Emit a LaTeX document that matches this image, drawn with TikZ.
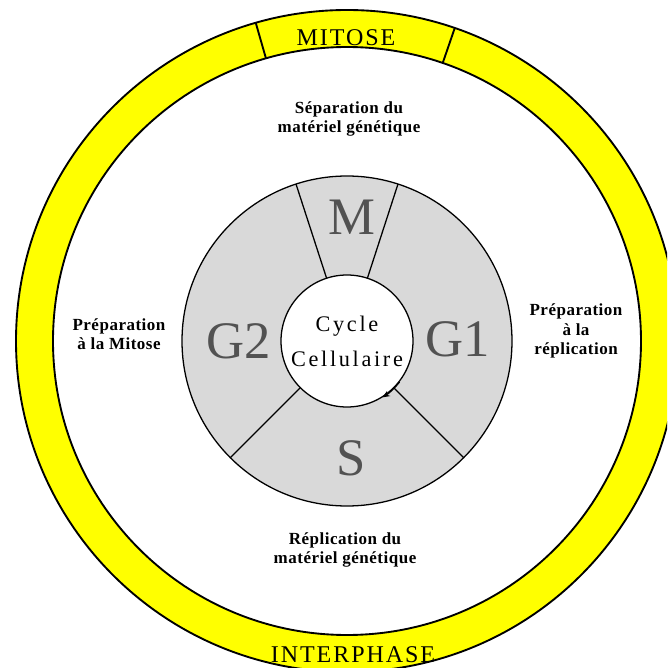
\documentclass[tikz,border=0pt]{standalone}
\usepackage{fontspec}
\setmainfont{Liberation Serif}
\newfontfamily\spaced[LetterSpace=8]{Liberation Serif}
\newfontfamily\wide[LetterSpace=12]{Liberation Serif}
\newfontfamily\loose[LetterSpace=3]{Liberation Serif}
\usetikzlibrary{arrows.meta}
\definecolor{ringYellow}{HTML}{FFFF00}
\definecolor{phaseGray}{HTML}{D9D9D9}

\begin{document}
\begin{tikzpicture}[x=0.03cm, y=0.03cm,
  ring/.style={draw=black, line width=1.6pt},
  part/.style={draw=black, line width=1.1pt},
  phase/.style={text=black!68, font=\fontsize{45}{45}\selectfont},
  band/.style={font=\spaced\fontsize{20.5}{22}\selectfont},
  note/.style={align=center, font=\loose\bfseries\fontsize{14.5}{16.5}\selectfont},
  cyc/.style={-{Stealth[length=2.2mm,width=1.8mm]}, line width=1.1pt}
]
  \useasboundingbox (-347,-327) rectangle (320,341);
  \clip (-347,-327) rectangle (320,341);

  % outer band
  \fill[ringYellow, even odd rule] (0,0) circle[radius=331] (0,0) circle[radius=294];
  \draw[ring] (0,0) circle[radius=331];
  \draw[ring] (0,0) circle[radius=294];
  \draw[ring] (106:294) -- (106:331);
  \draw[ring] (71:294) -- (71:331);

  % phases
  \fill[phaseGray] (0,0) circle[radius=165];
  \draw[part] (0,0) circle[radius=165];
  \foreach \a in {108,72,225,315}
    \draw[part] (\a:66) -- (\a:165);

  \node[circle, draw, part, fill=white, minimum size=3.96cm, inner sep=0pt,
        align=center, font=\wide\fontsize{19}{30}\selectfont] (cc) at (0,0) {Cycle\\Cellulaire};
  \draw[cyc] (cc.-38) arc[start angle=-38, end angle=-58, radius=66];

  \node[phase] (m) at (5,124) {M};
  \node[phase] (g1) at (111,2) {G1};
  \node[phase] (s) at (4,-117) {S};
  \node[phase] (g2) at (-108,0) {G2};

  % labels
  \node[band] (mitose) at (-1,303) {MITOSE};
  \node[band] (interphase) at (6,-314) {INTERPHASE};
  \node[note] (sep) at (2,222) {Séparation du\\matériel génétique};
  \node[note] (prepm) at (-228,7) {Préparation\\à la Mitose};
  \node[note] (prepr) at (229,10) {Préparation\\à la\\réplication};
  \node[note] (repl) at (-2,-209) {Réplication du\\matériel génétique};
\end{tikzpicture}
\end{document}
